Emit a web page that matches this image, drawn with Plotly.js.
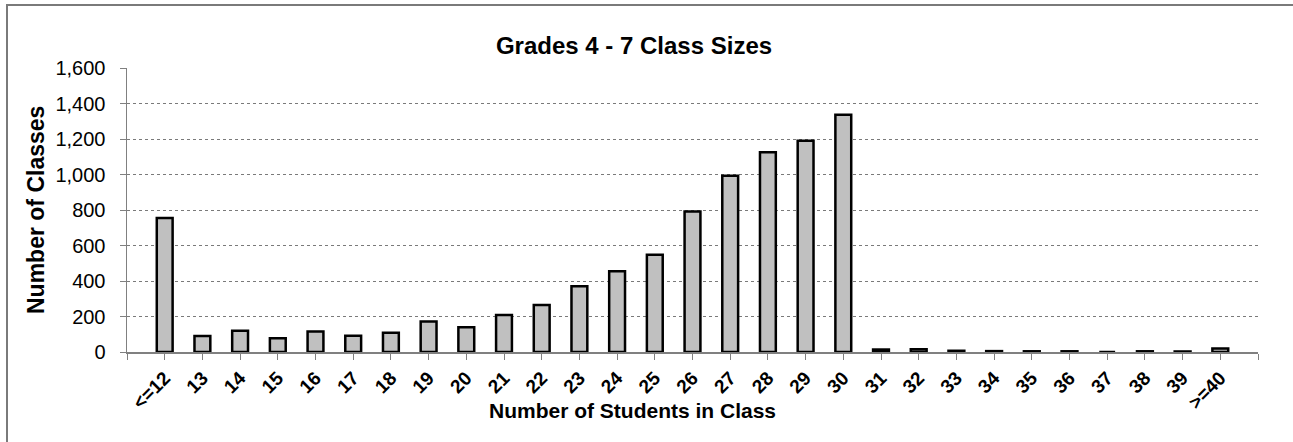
<!DOCTYPE html>
<html>
<head>
<meta charset="utf-8">
<script src="https://cdn.plot.ly/plotly-3.0.1.min.js"></script>
<style>
  html, body { margin: 0; padding: 0; background: #fff; overflow: hidden; }
  #frame { position: absolute; left: 6px; top: 4px; width: 1300px; height: 450px; border: 2px solid #7a7a7a; box-sizing: border-box; }
  #chart { position: absolute; left: 0; top: 0; width: 1293px; height: 442px; }
</style>
</head>
<body>
<div id="frame"></div>
<div id="chart"></div>
<script>
const categories = ['<=12','13','14','15','16','17','18','19','20','21','22','23','24','25','26','27','28','29','30','31','32','33','34','35','36','37','38','39','>=40'];
const classCounts = [755, 90, 120, 78, 116, 92, 109, 172, 140, 208, 265, 370, 455, 548, 792, 993, 1125, 1190, 1337, 14, 15, 7, 5, 4, 4, 0, 4, 3, 20];
const chartTitle = 'Grades 4 - 7 Class Sizes';
const xTitle = 'Number of Students in Class';
const yTitle = 'Number of Classes';

const idx = categories.map((c, i) => i);
const tickvals = [-1].concat(idx, [categories.length]);
const ticktext = [''].concat(categories.map(c => '<b>' + c.replace('<', '&lt;').replace('>', '&gt;') + '</b>'), ['']);

const font = 'Arial, "Liberation Sans", sans-serif';

const trace = {
  type: 'bar',
  x: idx,
  y: classCounts,
  marker: { color: '#c0c0c0', line: { color: '#000000', width: 2.5 } },
  hoverinfo: 'skip'
};

const layout = {
  width: 1293, height: 442,
  margin: { l: 127, r: 35, t: 68, b: 90 },
  paper_bgcolor: 'rgba(0,0,0,0)',
  plot_bgcolor: 'rgba(0,0,0,0)',
  bargap: 0.58,
  showlegend: false,
  font: { family: font, color: '#000' },
  title: {
    text: '<b>' + chartTitle + '</b>',
    font: { family: font, size: 24, color: '#000' },
    xref: 'container', yref: 'container',
    x: 634 / 1293, y: 1 - 46 / 442, xanchor: 'center', yanchor: 'middle'
  },
  xaxis: {
    range: [-1, categories.length],
    tickmode: 'array', tickvals: tickvals, ticktext: ticktext,
    tickangle: -45,
    tickfont: { family: font, size: 19, color: '#000' },
    ticks: 'outside', ticklen: 6, tickcolor: '#808080', tickwidth: 1,
    showline: true, linecolor: '#808080', linewidth: 1.5,
    showgrid: false, zeroline: false, fixedrange: true
  },
  yaxis: {
    range: [0, 1600], dtick: 200, tick0: 0,
    tickformat: ',d',
    tickfont: { family: font, size: 20, color: '#000' },
    ticks: 'outside', ticklen: 6, tickcolor: '#808080', tickwidth: 1,
    ticklabelstandoff: 10,
    showline: true, linecolor: '#808080', linewidth: 1.5,
    showgrid: true, gridcolor: '#7a7a7a', gridwidth: 1, griddash: 'dot',
    zeroline: false, fixedrange: true
  },
  annotations: [
    {
      text: '<b>' + xTitle + '</b>', xref: 'paper', yref: 'paper',
      x: (632 - 127) / 1131, y: (442 - 410 - 90) / 284,
      xanchor: 'center', yanchor: 'middle', showarrow: false,
      font: { family: font, size: 21, color: '#000' }
    },
    {
      text: '<b>' + yTitle + '</b>', xref: 'paper', yref: 'paper',
      x: (36 - 127) / 1131, y: 0.5, textangle: -90,
      xanchor: 'center', yanchor: 'middle', showarrow: false,
      font: { family: font, size: 23, color: '#000' }
    }
  ]
};

Plotly.newPlot('chart', [trace], layout, { displayModeBar: false, staticPlot: true });
</script>
</body>
</html>
